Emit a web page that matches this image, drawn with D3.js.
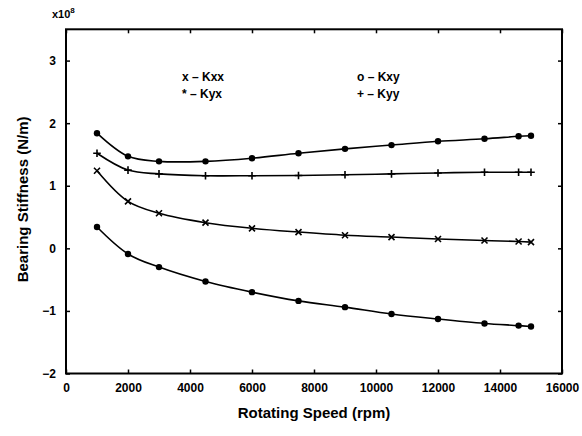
<!DOCTYPE html>
<html>
<head>
<meta charset="utf-8">
<script src="https://cdn.jsdelivr.net/npm/d3@7"></script>
<style>
  body { margin: 0; background: #fff; }
  svg { font-family: "Liberation Sans", Arial, sans-serif; font-weight: bold; }
</style>
</head>
<body>
<svg width="582" height="436"></svg>
<script>
// rotating speed (rpm)
var speeds = [1000, 2000, 3000, 4500, 6000, 7500, 9000, 10500, 12000, 13500, 14600, 15000];
// stiffness values, x10^8 N/m
var kxx = [1.24, 0.75, 0.56, 0.41, 0.32, 0.26, 0.21, 0.18, 0.15, 0.125, 0.11, 0.10];
var kxy = [1.84, 1.47, 1.39, 1.39, 1.44, 1.52, 1.59, 1.65, 1.71, 1.75, 1.79, 1.80];
var kyx = [0.34, -0.09, -0.30, -0.53, -0.70, -0.84, -0.94, -1.05, -1.13, -1.20, -1.235, -1.25];
var kyy = [1.52, 1.25, 1.19, 1.16, 1.16, 1.165, 1.175, 1.19, 1.205, 1.215, 1.215, 1.215];
var xTicks = [0, 2000, 4000, 6000, 8000, 10000, 12000, 14000, 16000];
var yTicks = [-2, -1, 0, 1, 2, 3];

var series = [
    {name: 'Kxx', values: kxx, marker: 'x'},
    {name: 'Kxy', values: kxy, marker: 'o'},
    {name: 'Kyx', values: kyx, marker: '*'},
    {name: 'Kyy', values: kyy, marker: '+'}
];

var svg = d3.select('svg');
var mLeft = 66, mRight = 562, mTop = 29.3, mBottom = 373.5;

var xScale = d3.scaleLinear().domain([0, 16000]).range([mLeft, mRight]);
var yScale = d3.scaleLinear().domain([-2, 3.5]).range([mBottom, mTop]);

// frame
svg.append('rect')
    .attr('x', mLeft).attr('y', mTop)
    .attr('width', mRight - mLeft).attr('height', mBottom - mTop)
    .attr('fill', 'none').attr('stroke', '#000').attr('stroke-width', 2);

// axes with inward ticks
var fmt = function(d) { return d < 0 ? '\u2212' + Math.abs(d) : '' + d; };
var xb = svg.append('g').attr('transform', 'translate(0,' + mBottom + ')')
    .call(d3.axisBottom(xScale).tickValues(xTicks).tickSizeInner(-4).tickSizeOuter(0).tickPadding(10).tickFormat(fmt));
var xt = svg.append('g').attr('transform', 'translate(0,' + mTop + ')')
    .call(d3.axisTop(xScale).tickValues(xTicks).tickSizeInner(-4).tickSizeOuter(0).tickFormat(''));
var yl = svg.append('g').attr('transform', 'translate(' + mLeft + ',0)')
    .call(d3.axisLeft(yScale).tickValues(yTicks).tickSizeInner(-4).tickSizeOuter(0).tickPadding(10).tickFormat(fmt));
var yr = svg.append('g').attr('transform', 'translate(' + mRight + ',0)')
    .call(d3.axisRight(yScale).tickValues(yTicks).tickSizeInner(-4).tickSizeOuter(0).tickFormat(''));

[xb, xt, yl, yr].forEach(function(g) {
    g.select('.domain').remove();
    g.selectAll('line').attr('stroke', '#000').attr('stroke-width', 1.5);
    g.selectAll('text').attr('fill', '#000')
        .style('font-size', '12px').style('font-weight', 'bold')
        .style('font-family', '"Liberation Sans", Arial, sans-serif');
});

// exponent label
var ex = svg.append('text').attr('x', 52).attr('y', 18).style('font-size', '11px');
ex.append('tspan').text('x10');
ex.append('tspan').attr('dy', -5).style('font-size', '8px').text('8');

// axis titles
svg.append('text')
    .attr('x', (mLeft + mRight) / 2).attr('y', 418)
    .attr('text-anchor', 'middle')
    .style('font-size', '15px')
    .text('Rotating Speed (rpm)');

svg.append('text')
    .attr('transform', 'rotate(-90)')
    .attr('x', -(mTop + mBottom) / 2 + 2).attr('y', 28)
    .attr('text-anchor', 'middle')
    .style('font-size', '15px')
    .text('Bearing Stiffness (N/m)');

// curves
var line = d3.line()
    .x(function(d) { return xScale(d[0]); })
    .y(function(d) { return yScale(d[1]); })
    .curve(d3.curveCatmullRom.alpha(0.5));

function drawMarker(g, type, cx, cy) {
    if (type === 'o' || type === '*') {
        g.append('circle').attr('cx', cx).attr('cy', cy).attr('r', 3.2).attr('fill', '#000');
    } else if (type === 'x') {
        var s = 3;
        g.append('path').attr('d', 'M' + (cx - s) + ',' + (cy - s) + 'L' + (cx + s) + ',' + (cy + s) +
            'M' + (cx - s) + ',' + (cy + s) + 'L' + (cx + s) + ',' + (cy - s))
            .attr('stroke', '#000').attr('stroke-width', 1.6);
    } else if (type === '+') {
        var p = 3.8;
        g.append('path').attr('d', 'M' + (cx - p) + ',' + cy + 'L' + (cx + p) + ',' + cy +
            'M' + cx + ',' + (cy - p) + 'L' + cx + ',' + (cy + p))
            .attr('stroke', '#000').attr('stroke-width', 1.6);
    }
}

series.forEach(function(s) {
    var pts = speeds.map(function(v, i) { return [v, s.values[i]]; });
    svg.append('path')
        .attr('d', line(pts))
        .attr('fill', 'none')
        .attr('stroke', '#000')
        .attr('stroke-width', 1.6);
    var g = svg.append('g');
    pts.forEach(function(p) {
        drawMarker(g, s.marker, xScale(p[0]), yScale(p[1]));
    });
});

// legend
var legend = [
    {text: 'x \u2013 Kxx', x: 182, y: 81},
    {text: '* \u2013 Kyx', x: 182, y: 98},
    {text: 'o \u2013 Kxy', x: 357, y: 81},
    {text: '+ \u2013 Kyy', x: 357, y: 98}
];
svg.selectAll('.leg').data(legend).enter().append('text')
    .attr('class', 'leg')
    .attr('x', function(d) { return d.x; })
    .attr('y', function(d) { return d.y; })
    .style('font-size', '12px')
    .text(function(d) { return d.text; });
</script>
</body>
</html>
